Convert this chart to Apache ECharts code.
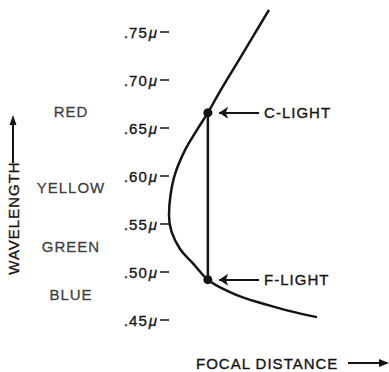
<!DOCTYPE html>
<html>
<head>
<meta charset="utf-8">
<script src="https://cdn.jsdelivr.net/npm/echarts@6/dist/echarts.min.js"></script>
<style>
  html, body { margin: 0; padding: 0; background: #fff; }
  #chart { width: 389px; height: 372px; }
  /* hand-lettered look: widen the spacing of every label */
  #chart svg text { letter-spacing: 1px; }
</style>
</head>
<body>
<div id="chart"></div>
<script>
// Chromatic aberration of a simple lens: focal distance against wavelength
const focalDistance = [6.25, 5.31, 4.375, 3.25, 2.43, 1.75, 1.0, 0.375, 0.094, 0, 0.156, 0.69, 1.5, 2.43, 3.81, 4.875, 5.69, 7.375, 9.25];
const wavelength    = [0.773, 0.747, 0.721, 0.690, 0.666, 0.648, 0.627, 0.602, 0.580, 0.559, 0.542, 0.524, 0.509, 0.492, 0.479, 0.472, 0.468, 0.460, 0.453];

// Fraunhofer lines marked on the curve
const lightNames       = ['C-LIGHT', 'F-LIGHT'];
const lightWavelengths = [0.666, 0.492];
const lightFocal       = [2.43, 2.43];

// Colour bands along the wavelength scale
const bandNames       = ['RED', 'YELLOW', 'GREEN', 'BLUE'];
const bandWavelengths = [0.667, 0.5885, 0.527, 0.477];

// Wavelength tick marks
const tickValues = [0.45, 0.50, 0.55, 0.60, 0.65, 0.70, 0.75];
const tickLabels = ['.45', '.50', '.55', '.60', '.65', '.70', '.75'];
const tickUnit = 'μ';

const ink = '#141414';
const font = 'Liberation Sans, Arial, sans-serif';
// a thin outline in the same ink gives the pen-lettered weight
const heavy = { textBorderColor: ink, textBorderWidth: 0.35 };

const curve = focalDistance.map((x, i) => [x, wavelength[i]]);
const lightPoints = lightNames.map((n, i) => ({ name: n, value: [lightFocal[i], lightWavelengths[i]] }));
const bandPoints = bandNames.map((n, i) => ({ name: n, value: [-6.125, bandWavelengths[i]] }));

// arrows pointing left at each marked point
const arrowGap = 0.7, arrowLen = 2.5;
const arrows = lightNames.map((n, i) => [
  { coord: [lightFocal[i] + arrowGap + arrowLen, lightWavelengths[i]], name: n },
  { coord: [lightFocal[i] + arrowGap, lightWavelengths[i]] }
]);

const chart = echarts.init(document.getElementById('chart'), null, { renderer: 'svg' });
chart.setOption({
  animation: false,
  backgroundColor: '#fff',
  grid: { left: 169, right: 60, top: 32, bottom: 52, containLabel: false, outerBoundsMode: 'none' },
  xAxis: { type: 'value', min: 0, max: 10, show: false },
  yAxis: {
    type: 'value', min: 0.45, max: 0.75, interval: 0.05,
    axisLine: { show: false },
    splitLine: { show: false },
    axisTick: { show: true, length: 9, lineStyle: { color: ink, width: 1.5 } },
    axisLabel: {
      margin: 11,
      formatter: (v) => {
        const k = tickValues.findIndex(t => Math.abs(t - v) < 1e-6);
        return k < 0 ? '' : '{n|' + tickLabels[k] + '}{u|' + tickUnit + '}';
      },
      rich: {
        n: Object.assign({ fontFamily: font, fontSize: 15, color: ink }, heavy),
        u: Object.assign({ fontFamily: font, fontSize: 15, fontStyle: 'italic', color: ink, padding: [0, 0, 0, 2] }, heavy)
      }
    }
  },
  series: [
    {
      type: 'line', data: curve, smooth: 0.4, clip: false, symbol: 'none',
      lineStyle: { color: ink, width: 2.5 },
      markLine: {
        silent: true, symbol: ['none', 'arrow'], symbolSize: 9,
        lineStyle: { color: ink, width: 2, type: 'solid' },
        label: Object.assign({
          show: true, position: 'start', distance: 5,
          formatter: p => p.name, color: ink, fontFamily: font, fontSize: 15
        }, heavy),
        data: arrows
      }
    },
    {
      type: 'line', data: lightPoints.map(p => p.value), symbol: 'none',
      lineStyle: { color: ink, width: 2.5 }
    },
    {
      type: 'scatter', data: lightPoints, symbolSize: 9,
      itemStyle: { color: ink, opacity: 1 }
    },
    {
      type: 'scatter', data: bandPoints, symbolSize: 0, clip: false,
      label: Object.assign({
        show: true, position: 'inside', formatter: p => p.name,
        color: ink, fontFamily: font, fontSize: 15
      }, heavy)
    }
  ],
  graphic: [
    {
      type: 'text', x: 13, y: 218, rotation: Math.PI / 2,
      style: { text: 'WAVELENGTH', fill: ink, stroke: ink, lineWidth: 0.35, font: '15px ' + font, align: 'center', verticalAlign: 'middle' }
    },
    { type: 'line', shape: { x1: 13, y1: 163, x2: 13, y2: 122 }, style: { stroke: ink, lineWidth: 2 } },
    { type: 'polygon', shape: { points: [[13, 115], [9.5, 125], [16.5, 125]] }, style: { fill: ink } },
    {
      type: 'text', x: 196, y: 363,
      style: { text: 'FOCAL DISTANCE', fill: ink, stroke: ink, lineWidth: 0.35, font: '15px ' + font, align: 'left', verticalAlign: 'middle' }
    },
    { type: 'line', shape: { x1: 348, y1: 363, x2: 381, y2: 363 }, style: { stroke: ink, lineWidth: 2 } },
    { type: 'polygon', shape: { points: [[389, 363], [379, 359], [379, 367]] }, style: { fill: ink } }
  ]
});
</script>
</body>
</html>
